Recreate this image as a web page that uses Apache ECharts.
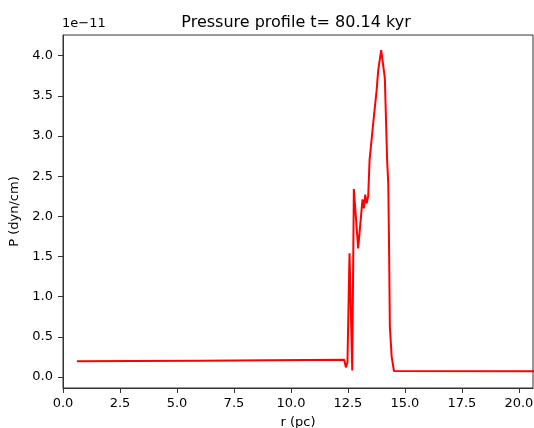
<!DOCTYPE html>
<html>
<head>
<meta charset="utf-8">
<script src="https://cdn.jsdelivr.net/npm/echarts@6/dist/echarts.min.js"></script>
<style>html,body{margin:0;padding:0;background:#fff}#c{width:534px;height:428px}</style>
</head>
<body>
<div id="c"></div>
<script>
var rValues = [0.61, 3.0, 6.0, 9.0, 12.34, 12.41, 12.48, 12.57, 12.69, 12.76, 12.95, 13.14, 13.2, 13.26, 13.32, 13.39, 13.45, 13.61, 13.76, 13.83, 13.96, 14.0, 14.12, 14.22, 14.27, 14.31, 14.34, 14.42, 14.52, 14.6, 20.7];
var pValues = [0.195, 0.2, 0.203, 0.208, 0.215, 0.12, 0.18, 1.54, 0.08, 2.34, 1.60, 2.21, 2.10, 2.27, 2.16, 2.25, 2.70, 3.16, 3.57, 3.82, 4.07, 4.07, 3.72, 2.70, 2.41, 1.5, 0.63, 0.25, 0.075, 0.07, 0.07];
var xTicks = [0, 2.5, 5, 7.5, 10, 12.5, 15, 17.5, 20];
var yTicks = [0, 0.5, 1, 1.5, 2, 2.5, 3, 3.5, 4];

var data = rValues.map(function (r, i) { return [r, pValues[i]]; });
var chart = echarts.init(document.getElementById('c'), null, {renderer: 'canvas'});
var font = 'DejaVu Sans';
chart.setOption({
  animation: false,
  backgroundColor: '#fff',
  title: {
    text: 'Pressure profile t= 80.14 kyr',
    left: 291, top: 10, textAlign: 'center',
    textStyle: {fontFamily: font, fontSize: 16, fontWeight: 'normal', color: '#000'}
  },
  grid: {left: 63, right: 1, top: 35, bottom: 40, show: true, borderColor: '#333', borderWidth: 1,
    containLabel: false, outerBoundsMode: 'none'},
  graphic: [{
    type: 'text', left: 62, top: 17,
    style: {text: '1e\u221211', fontFamily: font, fontSize: 13, fill: '#000'}
  }],
  xAxis: {
    type: 'value', min: 0, max: 20.62,
    name: 'r (pc)', nameLocation: 'middle', nameGap: 28,
    nameTextStyle: {fontFamily: font, fontSize: 13, color: '#000'},
    axisLine: {show: true, onZero: false, lineStyle: {color: '#333', width: 1}},
    axisTick: {show: true, length: 5, customValues: xTicks, lineStyle: {color: '#333'}},
    axisLabel: {customValues: xTicks, fontFamily: font, fontSize: 13, color: '#000', margin: 9,
      formatter: function (v) { return v.toFixed(1); }},
    splitLine: {show: false}
  },
  yAxis: {
    type: 'value', min: -0.137, max: 4.257,
    name: 'P (dyn/cm)', nameLocation: 'middle', nameGap: 42,
    nameTextStyle: {fontFamily: font, fontSize: 13, color: '#000'},
    axisLine: {show: true, onZero: false, lineStyle: {color: '#333', width: 1}},
    axisTick: {show: true, length: 5, customValues: yTicks, lineStyle: {color: '#333'}},
    axisLabel: {customValues: yTicks, fontFamily: font, fontSize: 13, color: '#000', margin: 10,
      formatter: function (v) { return v.toFixed(1); }},
    splitLine: {show: false}
  },
  series: [{
    type: 'line', data: data, showSymbol: false, symbol: 'none',
    lineStyle: {color: '#ff0000', width: 2}, clip: true
  }]
});
</script>
</body>
</html>
